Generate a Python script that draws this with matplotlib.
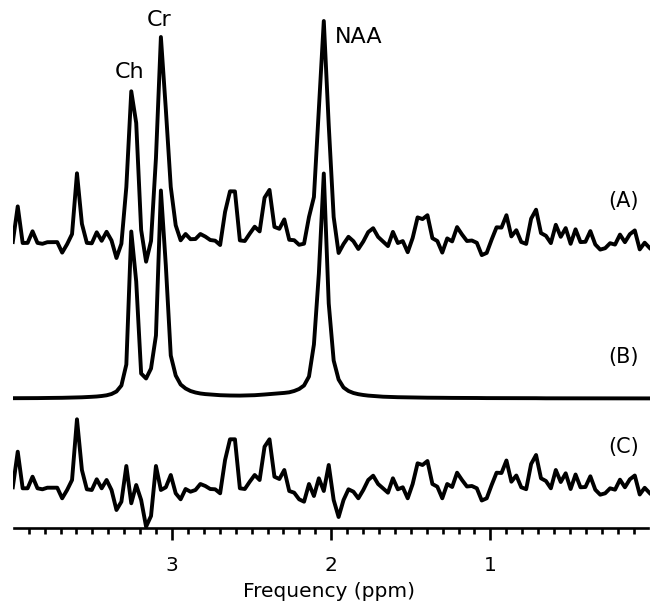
import numpy as np
import matplotlib.pyplot as plt
from matplotlib.ticker import FixedLocator

# chemical shift axis, evenly sampled from 4.0 down to 0.0 ppm
ppm = np.linspace(4.0, 0.0, 130)

# (A) measured spectrum
data_a = [1.0, 36.6, 0.0, 0.1, 11.7, 0.1, -0.8, 0.8, 0.9, 0.9,
          -9.6, -1.2, 8.9, 69.7, 19.2, 0.1, -0.3, 10.7, 2.2, 11.2,
          2.5, -15.0, -0.7, 56.0, 151.7, 120.0, 13.0, -18.7, 2.0, 85.0,
          206.0, 133.7, 56.0, 17.7, 2.7, 9.0, 3.8, 4.0, 9.0, 6.4,
          3.0, 2.3, -2.0, 31.1, 51.7, 51.6, 2.6, 2.0, 9.4, 16.3,
          11.6, 45.3, 53.1, 16.1, 14.2, 23.6, 3.2, 2.8, -1.8, -0.7,
          26.0, 46.0, 134.7, 222.0, 118.0, 26.0, -10.0, -1.0, 6.2, 1.8,
          -6.0, 1.5, 10.9, 14.8, 6.1, 1.5, -3.1, 11.1, 0.0, 1.9,
          -9.2, 5.0, 25.6, 23.9, 27.8, 4.8, 2.0, -9.6, 4.6, 1.6,
          15.9, 8.5, 2.0, 2.5, 0.2, -12.1, -9.9, 3.4, 15.7, 15.4,
          27.8, 6.6, 12.8, 1.0, -0.9, 24.3, 33.3, 9.9, 7.2, -0.1,
          18.2, 6.2, 14.9, -0.8, 13.7, 0.9, 1.2, 11.9, -1.5, -6.6,
          -5.2, -0.2, -1.6, 8.4, 0.8, 8.8, 12.6, -6.4, 0.3, -4.9]

# (B) fitted metabolite peaks
fit_b = [0.3, 0.3, 0.3, 0.4, 0.4, 0.4, 0.5, 0.5, 0.6, 0.6,
         0.7, 0.8, 0.9, 1.0, 1.2, 1.4, 1.7, 2.0, 2.5, 3.2,
         4.5, 7.0, 13.0, 34.0, 167.0, 117.0, 25.0, 20.0, 30.0, 63.0,
         208.0, 133.0, 43.0, 23.0, 14.0, 10.0, 7.5, 6.0, 5.0, 4.4,
         4.0, 3.6, 3.3, 3.1, 3.0, 2.9, 2.9, 3.0, 3.1, 3.3,
         3.6, 4.0, 4.4, 4.8, 5.2, 5.6, 6.2, 7.5, 9.5, 13.0,
         22.0, 54.0, 125.0, 225.0, 95.0, 38.0, 19.0, 11.0, 7.5, 5.5,
         4.3, 3.5, 2.9, 2.5, 2.1, 1.8, 1.6, 1.4, 1.3, 1.2,
         1.1, 1.0, 0.9, 0.9, 0.8, 0.8, 0.7, 0.7, 0.6, 0.6,
         0.6, 0.5, 0.5, 0.5, 0.5, 0.4, 0.4, 0.4, 0.4, 0.4,
         0.3, 0.3, 0.3, 0.3, 0.3, 0.3, 0.3, 0.2, 0.2, 0.2,
         0.2, 0.2, 0.2, 0.2, 0.2, 0.2, 0.2, 0.2, 0.2, 0.1,
         0.1, 0.1, 0.1, 0.1, 0.1, 0.1, 0.1, 0.1, 0.1, 0.1]

# (C) residual
resid_c = [0.7, 36.3, -0.3, -0.3, 11.3, -0.3, -1.3, 0.3, 0.3, 0.3,
           -10.3, -2.0, 8.0, 68.7, 18.0, -1.3, -2.0, 8.7, -0.3, 8.0,
           -2.0, -22.0, -13.7, 22.0, -15.3, 3.0, -12.0, -38.7, -28.0, 22.0,
           -2.0, 0.7, 13.0, -5.3, -11.3, -1.0, -3.7, -2.0, 4.0, 2.0,
           -1.0, -1.3, -5.3, 28.0, 48.7, 48.7, -0.3, -1.0, 6.3, 13.0,
           8.0, 41.3, 48.7, 11.3, 9.0, 18.0, -3.0, -4.7, -11.3, -13.7,
           4.0, -8.0, 9.7, -3.0, 23.0, -12.0, -29.0, -12.0, -1.3, -3.7,
           -10.3, -2.0, 8.0, 12.3, 4.0, -0.3, -4.7, 9.7, -1.3, 0.7,
           -10.3, 4.0, 24.7, 23.0, 27.0, 4.0, 1.3, -10.3, 4.0, 1.0,
           15.3, 8.0, 1.5, 2.0, -0.3, -12.5, -10.3, 3.0, 15.3, 15.0,
           27.5, 6.3, 12.5, 0.7, -1.2, 24.0, 33.0, 9.7, 7.0, -0.3,
           18.0, 6.0, 14.7, -1.0, 13.5, 0.7, 1.0, 11.7, -1.7, -6.7,
           -5.3, -0.3, -1.7, 8.3, 0.7, 8.7, 12.5, -6.5, 0.2, -5.0]

peak_names = ['Ch', 'Cr', 'NAA']

W, H = 656, 607
fig = plt.figure(figsize=(W / 100, H / 100), dpi=100)
ax = fig.add_axes([12.8 / W, 1 - 527.7 / H, 636.8 / W, 527.7 / H])

# vertical offsets of the stacked traces
off_a, off_b, off_c = 245, 89.5, 0

for vals, off in [(data_a, off_a), (fit_b, off_b), (resid_c, off_c)]:
    ax.plot(ppm, np.array(vals) + off, color='black', lw=2.8)

ax.set_xlim(4.0, 0.0)
ax.set_ylim(-39.7, 488)

for s in ['left', 'top', 'right']:
    ax.spines[s].set_visible(False)
ax.spines['bottom'].set_linewidth(1.9)
ax.spines['bottom'].set_bounds(3.99, 0.012)

ax.set_yticks([])
ax.set_xticks([3, 2, 1])
ax.set_xticklabels(['3', '2', '1'])
ax.xaxis.set_minor_locator(FixedLocator([i / 10 for i in range(1, 40)]))
ax.tick_params(axis='x', which='major', direction='out', length=8.4, width=1.9,
               pad=12, labelsize=14.5)
ax.tick_params(axis='x', which='minor', direction='out', length=4.0, width=1.9)

ax.set_xlabel('Frequency (ppm)', fontsize=14.5)
ax.xaxis.set_label_coords(0.4966, -0.132)
ax.xaxis.label.set_va('baseline')

# peak labels
ax.text(3.264, 409.7, peak_names[0], ha='center', va='baseline', fontsize=16)
ax.text(3.082, 462, peak_names[1], ha='center', va='baseline', fontsize=16)
ax.text(1.977, 445.3, peak_names[2], ha='left', va='baseline', fontsize=16)

# trace labels
ax.text(0.163, 287, '(A)', ha='center', va='center', fontsize=15)
ax.text(0.163, 131, '(B)', ha='center', va='center', fontsize=15)
ax.text(0.163, 41, '(C)', ha='center', va='center', fontsize=15)

fig.savefig('out.png', dpi=100)
